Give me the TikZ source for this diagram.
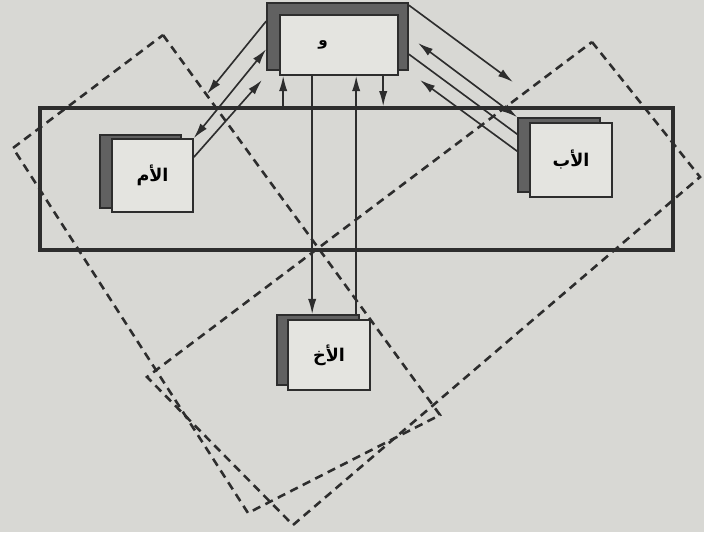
\documentclass[tikz,border=0pt]{standalone}
\usepackage{fontspec}
\usepackage{tikz}
\usetikzlibrary{arrows.meta,calc}
\TeXXeTstate=1
\newfontfamily\arabicfont[Script=Arabic]{DejaVu Sans}
\definecolor{paper}{RGB}{216,216,212}
\definecolor{cardfill}{RGB}{228,228,224}
\definecolor{ink}{RGB}{45,45,45}

\begin{document}
\begin{tikzpicture}[x=0.3mm, y=-0.3mm,
		card/.style={draw=ink, fill=cardfill, line width=1.4pt, inner sep=0pt, font=\arabicfont\bfseries\fontsize{15}{17}\selectfont},
		shadowbox/.style={draw=ink, fill=ink!75, line width=1.4pt, inner sep=0pt},
		link/.style={draw=ink, line width=1.4pt},
		arr/.style={link, -{Latex[length=4.6mm,width=2.5mm]}},
		arrr/.style={link, {Latex[length=4.6mm,width=2.5mm]}-{Latex[length=4.6mm,width=2.5mm]}},
		group/.style={draw=ink, line width=2.2pt, dash pattern=on 2.5mm off 1.7mm}]
	\useasboundingbox (0,0) rectangle (704,532);
	\fill[paper] (0,0) rectangle (704,532);

	% the two dashed groupings
	\draw[group] (163,35) -- (440,415) -- (248,513) -- (13,148) -- cycle;
	\draw[group] (592,42) -- (700,177) -- (293,525) -- (147,377) -- cycle;

	% family frame
	\node[draw=ink, line width=2.8pt, minimum width=189.9mm, minimum height=42.6mm] (family) at (356.5,179) {};

	% members
	\node[shadowbox, minimum width=42.3mm, minimum height=20.1mm] (topbk) at (337.5,36.5) {};
	\node[card, minimum width=35.4mm, minimum height=18mm] (top) at (339,45) {};
	\node[font=\arabicfont\bfseries\fontsize{13}{15}\selectfont] (toplbl) at (323,45) {\beginR و\endR};

	\node[shadowbox, minimum width=24.3mm, minimum height=21.9mm] (mombk) at (140.5,171.5) {};
	\node[card, minimum width=24.3mm, minimum height=21.9mm] (mom) at (152.5,175.5) {\beginR الأم\endR};

	\node[shadowbox, minimum width=24.6mm, minimum height=22.2mm] (dadbk) at (559,155) {};
	\node[card, minimum width=24.6mm, minimum height=22.2mm] (dad) at (571,160) {\beginR الأب\endR};

	\node[shadowbox, minimum width=24.6mm, minimum height=21mm] (brobk) at (318,350) {};
	\node[card, minimum width=24.6mm, minimum height=21mm] (bro) at (329,355) {\beginR الأخ\endR};

	% free ends near the boxes
	\coordinate (a1) at (207,94);
	\coordinate (c1) at (262,80);
	\coordinate (d1) at (513,82);
	\coordinate (e1) at (418,43);
	\coordinate (g1) at (420,80);

	% top box and mother
	\draw[arr] ($(topbk.north west)+(0,19)$) -- (a1);
	\draw[arrr] (mom.north east) -- ($(topbk.north west)+(0,47)$);
	\draw[arr] ($(mom.north east)+(0,19)$) -- (c1);

	% top box and father
	\draw[arr] ($(topbk.north east)+(0,3)$) -- (d1);
	\draw[arrr] (e1) -- (dadbk.north west);
	\draw[link] ($(topbk.north east)+(0,52)$) -- ($(dadbk.north west)+(0,17)$);
	\draw[arr] ($(dadbk.north west)+(0,34)$) -- (g1);

	% top box, frame and brother
	\coordinate (v1) at ($(top.south west)+(4,0)$);
	\coordinate (v2) at ($(top.south west)+(104,0)$);
	\coordinate (v3) at ($(top.south west)+(33,0)$);
	\coordinate (v4) at ($(top.south west)+(77,0)$);
	\draw[arr] (v1 |- family.north) -- (v1);
	\draw[arr] (v2) -- (v2 |- family.north);
	\draw[arr] (v3) -- (v3 |- brobk.north);
	\draw[arr] (v4 |- brobk.north) -- (v4);
\end{tikzpicture}
\end{document}
